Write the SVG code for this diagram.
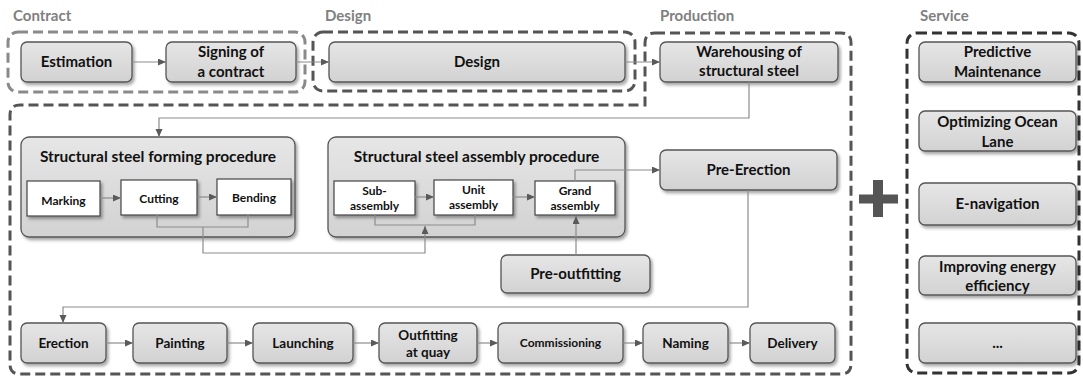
<svg xmlns="http://www.w3.org/2000/svg" width="1083" height="378" viewBox="0 0 1083 378">
<defs>
<linearGradient id="g" x1="0" y1="0" x2="0" y2="1">
<stop offset="0" stop-color="#e6e6e6"/>
<stop offset="1" stop-color="#d2d2d2"/>
</linearGradient>
<filter id="sh" x="-10%" y="-10%" width="130%" height="140%">
<feDropShadow dx="2" dy="2.5" stdDeviation="1.5" flood-color="#000" flood-opacity="0.35"/>
</filter>
<marker id="ar" markerWidth="9" markerHeight="8" refX="8" refY="3.5" orient="auto" markerUnits="userSpaceOnUse">
<path d="M0,0 L8,3.5 L0,7 z" fill="#5a5a5a"/>
</marker>
</defs>
<style>
.box{fill:url(#g);stroke:#555;stroke-width:1.3;filter:url(#sh)}
.wb{fill:#fff;stroke:#444;stroke-width:1.2;filter:url(#sh)}
.t{font-family:Lato,"Liberation Sans",sans-serif;font-weight:bold;fill:#111;text-anchor:middle}
.t15{font-size:15px}
.t155{font-size:15.5px}
.t14{font-size:15px}
.t13{font-size:13.5px}
.t12{font-size:12px}
.hd{font-family:Lato,"Liberation Sans",sans-serif;font-weight:bold;font-size:15px;fill:#808080}
.dz{fill:none;stroke-width:3;stroke-dasharray:10 5}
.c{fill:none;stroke:#8c8c8c;stroke-width:1.2}
</style>

<g id="headings">
<text class="hd" x="13" y="21">Contract</text>
<text class="hd" x="325" y="21">Design</text>
<text class="hd" x="660" y="21">Production</text>
<text class="hd" x="920" y="21">Service</text>
</g>

<g id="zones">
<rect class="dz" x="8" y="32" width="297" height="60" rx="10" stroke="#8a8a8a"/>
<rect class="dz" x="313" y="32" width="322" height="59" rx="10" stroke="#555"/>
<path class="dz" stroke="#555" d="M655,33 H841 Q851,33 851,43 V364 Q851,374 841,374 H20 Q10,374 10,364 V115 Q10,105 20,105 H645 V43 Q645,33 655,33 Z"/>
<rect class="dz" x="907" y="33" width="172" height="340" rx="10" stroke="#333" stroke-dasharray="8 4"/>
</g>

<g id="plus">
<rect x="859" y="194.5" width="39" height="9" fill="#555"/>
<rect x="873" y="180" width="10" height="37" fill="#555"/>
</g>

<g id="estimation"><rect class="box" x="21" y="42" width="111" height="40" rx="6"/><text class="t t15" x="76.5" y="67">Estimation</text></g>
<g id="signing"><rect class="box" x="166" y="42" width="130" height="40" rx="6"/><text class="t t15" x="231" y="57">Signing of</text><text class="t t15" x="231" y="77">a contract</text></g>
<g id="design"><rect class="box" x="329" y="42" width="296" height="40" rx="6"/><text class="t t15" x="477" y="67">Design</text></g>
<g id="warehousing"><rect class="box" x="660" y="42" width="178" height="40" rx="6"/><text class="t t15" x="749" y="57">Warehousing of</text><text class="t t15" x="749" y="76">structural steel</text></g>

<g id="forming">
<rect class="box" x="21" y="137" width="274" height="100" rx="8"/>
<text class="t t155" x="158" y="162">Structural steel forming procedure</text>
</g>
<g id="marking"><rect class="wb" x="27" y="181" width="73" height="35"/><text class="t t12" x="63.5" y="205">Marking</text></g>
<g id="cutting"><rect class="wb" x="121" y="180" width="76" height="35"/><text class="t t12" x="159" y="203">Cutting</text></g>
<g id="bending"><rect class="wb" x="217" y="179" width="74" height="36"/><text class="t t12" x="254" y="202">Bending</text></g>

<g id="assembly">
<rect class="box" x="328" y="137" width="297" height="100" rx="8"/>
<text class="t t155" x="476.5" y="162">Structural steel assembly procedure</text>
</g>
<g id="subassembly"><rect class="wb" x="334" y="181" width="81" height="34"/><text class="t t12" x="374.5" y="195">Sub-</text><text class="t t12" x="374.5" y="210">assembly</text></g>
<g id="unitassembly"><rect class="wb" x="434" y="180" width="79" height="35"/><text class="t t12" x="473.5" y="194">Unit</text><text class="t t12" x="473.5" y="209">assembly</text></g>
<g id="grandassembly"><rect class="wb" x="535" y="181" width="80" height="34"/><text class="t t12" x="575" y="195">Grand</text><text class="t t12" x="575" y="210">assembly</text></g>

<g id="preerection"><rect class="box" x="660" y="150" width="177" height="40" rx="6"/><text class="t t15" x="748.5" y="175">Pre-Erection</text></g>
<g id="preoutfitting"><rect class="box" x="501" y="255" width="149" height="38" rx="6"/><text class="t t15" x="575.5" y="279">Pre-outfitting</text></g>

<g id="erection"><rect class="box" x="21" y="323" width="85" height="40" rx="6"/><text class="t t13" x="63.5" y="348">Erection</text></g>
<g id="painting"><rect class="box" x="133" y="323" width="94" height="40" rx="6"/><text class="t t13" x="180" y="348">Painting</text></g>
<g id="launching"><rect class="box" x="253" y="323" width="100" height="40" rx="6"/><text class="t t13" x="303" y="348">Launching</text></g>
<g id="outfitting"><rect class="box" x="379" y="323" width="98" height="40" rx="6"/><text class="t t13" x="428" y="340">Outfitting</text><text class="t t13" x="428" y="357">at quay</text></g>
<g id="commissioning"><rect class="box" x="498" y="323" width="125" height="40" rx="6"/><text class="t t12" x="560.5" y="347">Commissioning</text></g>
<g id="naming"><rect class="box" x="643" y="323" width="85" height="40" rx="6"/><text class="t t13" x="685.5" y="348">Naming</text></g>
<g id="delivery"><rect class="box" x="750" y="323" width="85" height="40" rx="6"/><text class="t t13" x="792.5" y="348">Delivery</text></g>

<g id="predictive"><rect class="box" x="919" y="42" width="157" height="40" rx="6"/><text class="t t14" x="997.5" y="57">Predictive</text><text class="t t14" x="997.5" y="77">Maintenance</text></g>
<g id="ocean"><rect class="box" x="919" y="111" width="157" height="40" rx="6"/><text class="t t14" x="997.5" y="127">Optimizing Ocean</text><text class="t t14" x="997.5" y="147">Lane</text></g>
<g id="enavigation"><rect class="box" x="919" y="183" width="157" height="42" rx="6"/><text class="t t14" x="997.5" y="209">E-navigation</text></g>
<g id="energy"><rect class="box" x="919" y="256" width="157" height="39" rx="6"/><text class="t t14" x="997.5" y="272">Improving energy</text><text class="t t14" x="997.5" y="291">efficiency</text></g>
<g id="more"><rect class="box" x="919" y="323" width="157" height="40" rx="6"/><text class="t t14" x="997.5" y="348">...</text></g>

<g id="connectors">
<path class="c" d="M132,62 H166" marker-end="url(#ar)"/>
<path class="c" d="M296,62 H329" marker-end="url(#ar)"/>
<path class="c" d="M625,62 H660" marker-end="url(#ar)"/>
<path class="c" d="M749,82 V118 H159 V137" marker-end="url(#ar)"/>
<path class="c" d="M100,198 H121" marker-end="url(#ar)"/>
<path class="c" d="M197,197 H217" marker-end="url(#ar)"/>
<path class="c" d="M157,215 V227 H248 V215"/>
<path class="c" d="M203,227 V253 H425 V226" marker-end="url(#ar)"/>
<path class="c" d="M375,215 V225 H475 V215"/>
<path class="c" d="M415,197 H434" marker-end="url(#ar)"/>
<path class="c" d="M513,197 H535" marker-end="url(#ar)"/>
<path class="c" d="M575,181 V170 H660" marker-end="url(#ar)"/>
<path class="c" d="M576,255 V216" marker-end="url(#ar)"/>
<path class="c" d="M748,190 V307 H63 V323" marker-end="url(#ar)"/>
<path class="c" d="M106,343 H133" marker-end="url(#ar)"/>
<path class="c" d="M227,343 H253" marker-end="url(#ar)"/>
<path class="c" d="M353,343 H379" marker-end="url(#ar)"/>
<path class="c" d="M477,343 H498" marker-end="url(#ar)"/>
<path class="c" d="M623,343 H643" marker-end="url(#ar)"/>
<path class="c" d="M728,343 H750" marker-end="url(#ar)"/>
</g>
</svg>
